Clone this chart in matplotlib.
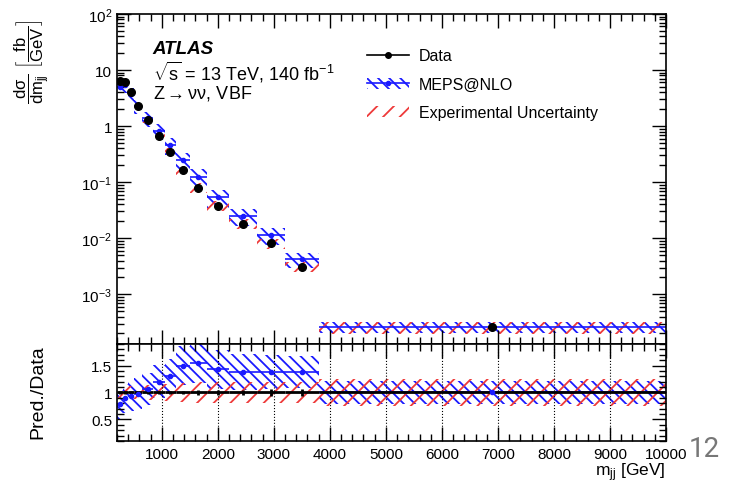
import numpy as np
import matplotlib
matplotlib.use('Agg')
import matplotlib.pyplot as plt
from matplotlib.lines import Line2D
from matplotlib.patches import Patch
from matplotlib.ticker import MultipleLocator, FixedLocator, FuncFormatter, LogLocator, NullFormatter

plt.rcParams['font.family'] = ['Liberation Sans', 'DejaVu Sans']
plt.rcParams['mathtext.fontset'] = 'custom'
plt.rcParams['mathtext.rm'] = 'Liberation Sans'
plt.rcParams['mathtext.it'] = 'Liberation Sans:italic'
plt.rcParams['mathtext.bf'] = 'Liberation Sans:bold'
plt.rcParams['hatch.linewidth'] = 1.3

# bin edges in m_jj [GeV]
edges = np.array([200, 300, 400, 500, 650, 850, 1050, 1250, 1500, 1800, 2200, 2700, 3200, 3800, 10000])
# measured cross section [fb/GeV]
data = np.array([6.5, 6.0, 4.0, 2.3, 1.3, 0.68, 0.35, 0.165, 0.080, 0.038, 0.018, 0.0082, 0.0031, 2.6e-4])
data_stat = np.array([0.02, 0.02, 0.02, 0.02, 0.02, 0.02, 0.03, 0.03, 0.04, 0.05, 0.05, 0.06, 0.07, 0.03])
# MEPS@NLO / data
ratio = np.array([0.78, 0.89, 0.93, 0.98, 1.07, 1.2, 1.3, 1.5, 1.55, 1.43, 1.38, 1.38, 1.38, 1.0])
pred_unc = np.array([0.27, 0.27, 0.28, 0.28, 0.3, 0.31, 0.33, 0.36, 0.38, 0.36, 0.34, 0.32, 0.3, 0.22])
exp_unc = np.array([0.12, 0.12, 0.12, 0.13, 0.14, 0.15, 0.16, 0.18, 0.2, 0.2, 0.2, 0.2, 0.2, 0.25])

centers = (edges[:-1] + edges[1:]) / 2
halfw = np.diff(edges) / 2
pred = data * ratio

blue = '#1a1aff'
red = '#ee3a3a'

fig = plt.figure(figsize=(7.29, 4.85), dpi=100)
ax = fig.add_axes([0.1605, 0.2887, 0.7531, 0.6804])
rax = fig.add_axes([0.1605, 0.0887, 0.7531, 0.2], sharex=ax)


def band(a, lo, hi, color, hatch):
    a.fill_between(edges, np.append(lo, lo[-1]), np.append(hi, hi[-1]), step='post',
                   facecolor='none', edgecolor=color, hatch=hatch, linewidth=0)


# main panel
band(ax, pred * (1 - pred_unc), pred * (1 + pred_unc), blue, '\\\\\\')
band(ax, data * (1 - exp_unc), data * (1 + exp_unc), red, '//')
ax.errorbar(centers, pred, xerr=halfw, fmt='o', color=blue, ms=3, lw=1.2)
ax.errorbar(centers, data, yerr=data * data_stat, fmt='o', color='black', ms=5.5, lw=1.2)

ax.set_yscale('log')
ax.set_ylim(1.3e-4, 100)
ax.set_xlim(200, 10000)

ylabels = {100: '$10^{2}$', 10: '10', 1: '1', 0.1: '$10^{-1}$', 0.01: '$10^{-2}$', 0.001: '$10^{-3}$'}
ax.yaxis.set_major_locator(FixedLocator(list(ylabels.keys())))
ax.yaxis.set_major_formatter(FuncFormatter(lambda v, p: ylabels.get(round(v, 6), '')))
ax.yaxis.set_minor_locator(LogLocator(base=10, subs=np.arange(2, 10), numticks=20))
ax.yaxis.set_minor_formatter(NullFormatter())
ax.xaxis.set_major_locator(MultipleLocator(1000))
ax.xaxis.set_minor_locator(MultipleLocator(200))
ax.tick_params(axis='x', labelbottom=False)

# ratio panel
band(rax, ratio - pred_unc, ratio + pred_unc, blue, '\\\\\\')
band(rax, 1 - exp_unc, 1 + exp_unc, red, '//')
rax.errorbar(centers, ratio, xerr=halfw, fmt='o', color=blue, ms=3, lw=1.2)
rax.errorbar(centers, np.ones_like(centers), xerr=halfw, yerr=data_stat, fmt='none',
             color='black', lw=2)
rax.set_ylim(0.1, 1.9)
rax.yaxis.set_major_locator(FixedLocator([0.5, 1, 1.5]))
rax.yaxis.set_major_formatter(FuncFormatter(lambda v, p: '%g' % v))
rax.yaxis.set_minor_locator(MultipleLocator(0.1))
rax.grid(axis='x', which='major', linestyle=':', color='black', lw=0.8)

for a in (ax, rax):
    a.tick_params(which='both', direction='in', top=True, right=True, labelsize=11, width=1)
    a.tick_params(which='major', length=10)
    a.tick_params(which='minor', length=5)
    for s in a.spines.values():
        s.set_linewidth(1.2)
rax.tick_params(axis='x', pad=4)

# labels
fig.text(0.044, 1 - 62 / 485,
         r'$\dfrac{\mathrm{d\sigma}}{\mathrm{dm_{jj}}}\ \left[\dfrac{\mathrm{fb}}{\mathrm{GeV}}\right]$',
         rotation=90, ha='center', va='center', fontsize=12)
fig.text(0.052, 1 - 392 / 485, 'Pred./Data', rotation=90, ha='center', va='center', fontsize=14)
rax.set_xlabel(r'm$_{\mathrm{jj}}$ [GeV]', loc='right', fontsize=12.5, labelpad=0)

ax.text(0.065, 0.894, 'ATLAS', transform=ax.transAxes, fontsize=13.5, weight='bold',
        style='italic', va='center')
ax.text(0.065, 0.827, r'$\sqrt{\mathrm{s}}$ = 13 TeV, 140 fb$^{-1}$', transform=ax.transAxes,
        fontsize=13, va='center')
ax.text(0.065, 0.761, r'Z$\rightarrow$\u03bd\u03bd, VBF'.replace('\\u03bd', '\u03bd'),
        transform=ax.transAxes, fontsize=13, va='center')

handles = [
    Line2D([], [], color='black', marker='o', ms=4, lw=1.2),
    (Patch(facecolor='none', edgecolor=blue, hatch='\\\\\\', lw=0),
     Line2D([], [], color=blue, marker='o', ms=3, lw=1.2)),
    Patch(facecolor='none', edgecolor=red, hatch='//', lw=0),
]
ax.legend(handles, ['Data', 'MEPS@NLO', 'Experimental Uncertainty'], loc='upper left',
          bbox_to_anchor=(0.43, 0.94), frameon=False, fontsize=11.5, handlelength=2.6,
          handletextpad=0.6, labelspacing=0.85)

fig.text(0.945, 1 - 450 / 485, '12', family='Roboto', fontsize=20, color='#777777',
         ha='left', va='center')

fig.savefig('out.png', dpi=100)
